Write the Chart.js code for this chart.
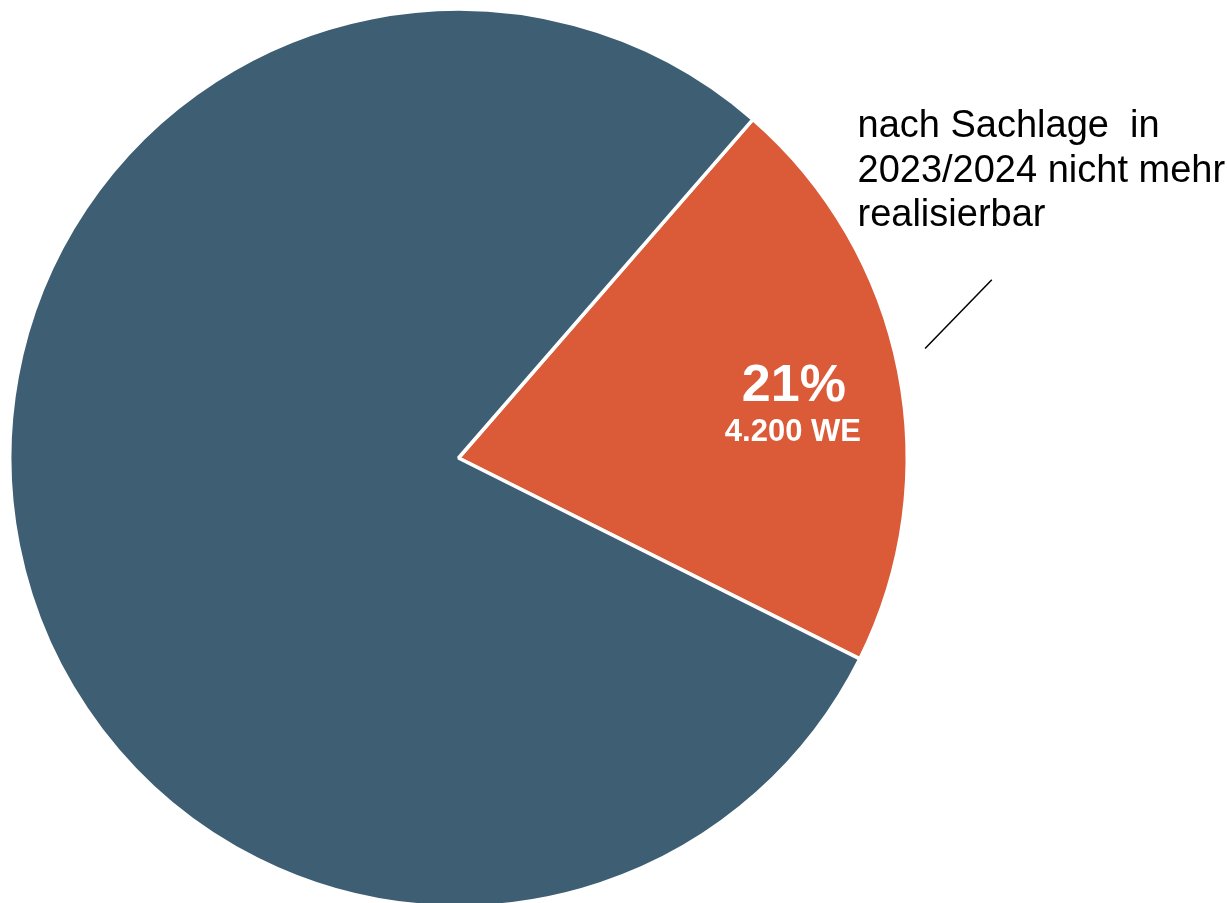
<!DOCTYPE html>
<html>
<head>
<meta charset="utf-8">
<script src="https://cdn.jsdelivr.net/npm/chart.js@4"></script>
<style>
  html, body { margin: 0; padding: 0; background: #fff; overflow: hidden; }
  #wrap { position: relative; width: 1227px; height: 925px; }
</style>
</head>
<body>
<div id="wrap"><canvas id="pie-chart"></canvas></div>
<script>
// data
let categories = ["nach Sachlage  in 2023/2024 nicht mehr realisierbar", "übrige"];
let units = [4200, 15800];          // WE
let sliceColors = ["#db5a37", "#3e5e73"];
let calloutLines = ["nach Sachlage  in", "2023/2024 nicht mehr", "realisierbar"];

let total = units.reduce((a, b) => a + b, 0);

// labels inside the orange slice + callout text
let labelPlugin = {
  id: "sliceLabels",
  afterDraw(chart) {
    let ctx = chart.ctx;
    let arc = chart.getDatasetMeta(0).data[0];
    let cx = arc.x, cy = arc.y, r = arc.outerRadius;
    let mid = (arc.startAngle + arc.endAngle) / 2;

    // percent + WE
    let lx = cx + Math.cos(mid) * r * 0.755;
    let ly = cy + Math.sin(mid) * r * 0.755;
    let pct = Math.round(units[0] / total * 100) + "%";
    let we = units[0].toLocaleString("de-DE") + " WE";
    ctx.save();
    ctx.fillStyle = "#fff";
    ctx.textAlign = "center";
    ctx.textBaseline = "alphabetic";
    ctx.font = "bold 52px 'Liberation Sans', Arial, sans-serif";
    ctx.fillText(pct, lx + 3, ly + 9);
    ctx.font = "bold 31px 'Liberation Sans', Arial, sans-serif";
    ctx.fillText(we, lx + 2, ly + 49);

    // leader line
    let a1 = mid - 0.035, a2 = mid - 0.127;
    ctx.strokeStyle = "#000";
    ctx.lineWidth = 1.5;
    ctx.beginPath();
    ctx.moveTo(cx + Math.cos(a1) * r * 1.068, cy + Math.sin(a1) * r * 1.068);
    ctx.lineTo(cx + Math.cos(a2) * r * 1.253, cy + Math.sin(a2) * r * 1.253);
    ctx.stroke();

    // callout text
    ctx.fillStyle = "#000";
    ctx.textAlign = "left";
    ctx.font = "38px 'Liberation Sans', Arial, sans-serif";
    calloutLines.forEach(function (line, i) {
      ctx.fillText(line, cx + 399, cy - 321 + i * 44.5);
    });
    ctx.restore();
  }
};

new Chart(document.getElementById("pie-chart"), {
  type: "pie",
  data: {
    labels: categories,
    datasets: [
      {
        data: units,
        backgroundColor: sliceColors,
        borderColor: "#fff",
        borderWidth: 3.5
      }
    ]
  },
  options: {
    responsive: true,
    maintainAspectRatio: false,
    animation: false,
    rotation: 41,
    layout: {
      padding: { left: 8, right: 318, top: 7.5, bottom: 16.5 }
    },
    plugins: {
      legend: { display: false },
      tooltip: { enabled: false }
    }
  },
  plugins: [labelPlugin]
});
</script>
</body>
</html>
